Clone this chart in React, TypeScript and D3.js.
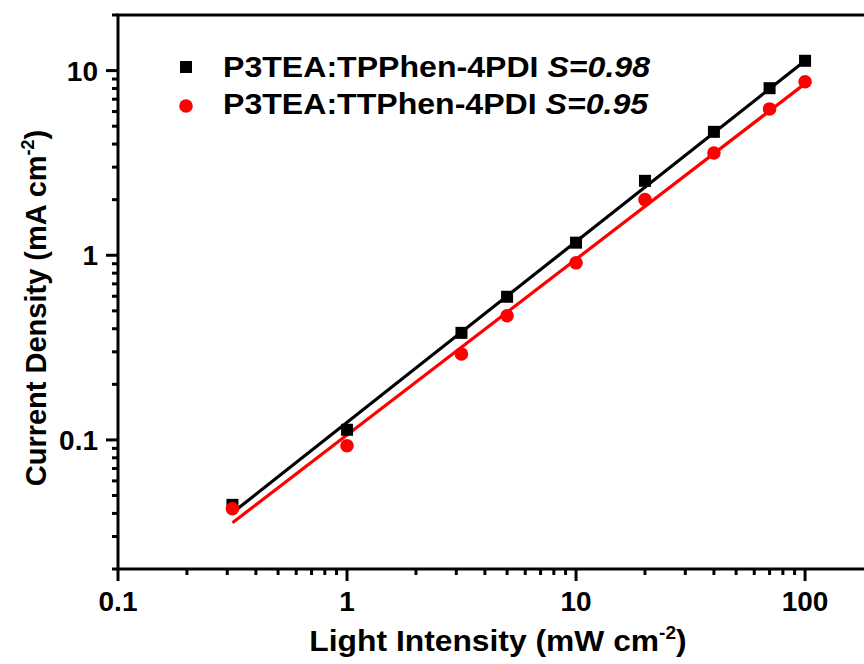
import React from "react";
import * as d3 from "d3";

const intensity = [0.316, 1, 3.16, 5, 10, 20, 40, 70, 100];
const tpphen = [0.0445, 0.1135, 0.38, 0.596, 1.17, 2.53, 4.66, 8.03, 11.3];
const ttphen = [0.0424, 0.093, 0.292, 0.47, 0.91, 2.0, 3.58, 6.2, 8.7];
const fitX = [0.316, 100];
const tpphenFit = [0.0403, 11.3];
const ttphenFit = [0.0356, 8.5];
const xTicks = [0.1, 1, 10, 100];
const xTickLabels = ["0.1", "1", "10", "100"];
const yTicks = [0.1, 1, 10];
const yTickLabels = ["0.1", "1", "10"];
const seriesNames = ["P3TEA:TPPhen-4PDI ", "P3TEA:TTPhen-4PDI "];
const slopeLabels = ["S=0.98", "S=0.95"];
const colors = ["#000000", "#ff0000"];

const W = 864;
const H = 664;
const left = 118;
const right = 874;
const top = 15;
const bottom = 569;

export default function App() {
  const x = d3.scaleLog().domain([0.1, 200]).range([left, right]);
  const y = d3.scaleLog().domain([0.02, 20]).range([bottom, top]);
  const font = "'Liberation Sans', Arial, sans-serif";

  const xMinor: number[] = [];
  [0.1, 1, 10, 100].forEach((d) => {
    for (let k = 2; k <= 9; k++) xMinor.push(d * k);
  });
  const yMinor: number[] = [];
  [0.01, 0.1, 1, 10].forEach((d) => {
    for (let k = 2; k <= 9; k++) yMinor.push(d * k);
  });
  const xm = xMinor.filter((v) => v > 0.1 && v < 200);
  const ym = yMinor.filter((v) => v >= 0.02 && v <= 20);

  const line = d3
    .line<[number, number]>()
    .x((d) => x(d[0]))
    .y((d) => y(d[1]));

  const fits = [tpphenFit, ttphenFit];
  const series = [tpphen, ttphen];
  const sq = 12;
  const r = 6.8;

  return (
    <svg
      width={W}
      height={H}
      style={{ position: "absolute", left: 0, top: 0, background: "#fff" }}
      fontFamily={font}
    >
      <rect x={0} y={0} width={W} height={H} fill="#fff" />
      {fits.map((f, i) => (
        <path
          key={"fit" + i}
          d={line(fitX.map((v, j) => [v, f[j]]) as [number, number][]) || ""}
          stroke={colors[i]}
          strokeWidth={3.2}
          fill="none"
        />
      ))}
      {intensity.map((v, i) => (
        <rect
          key={"s" + i}
          x={x(v) - sq / 2}
          y={y(series[0][i]) - sq / 2}
          width={sq}
          height={sq}
          fill={colors[0]}
        />
      ))}
      {intensity.map((v, i) => (
        <circle key={"c" + i} cx={x(v)} cy={y(series[1][i])} r={r} fill={colors[1]} />
      ))}
      <rect
        x={left}
        y={top}
        width={right - left}
        height={bottom - top}
        fill="none"
        stroke="#000"
        strokeWidth={3}
      />
      {xTicks.map((v) => (
        <line key={"xt" + v} x1={x(v)} x2={x(v)} y1={bottom} y2={bottom + 12} stroke="#000" strokeWidth={3} />
      ))}
      {xm.map((v) => (
        <line key={"xm" + v} x1={x(v)} x2={x(v)} y1={bottom} y2={bottom + 6} stroke="#000" strokeWidth={3} />
      ))}
      {xTicks.map((v, i) => (
        <text key={"xl" + v} x={x(v)} y={611} textAnchor="middle" fontSize={28} fontWeight="bold">
          {xTickLabels[i]}
        </text>
      ))}
      {yTicks.map((v) => (
        <line key={"yt" + v} x1={left - 12} x2={left} y1={y(v)} y2={y(v)} stroke="#000" strokeWidth={3} />
      ))}
      {ym.map((v) => (
        <line key={"ym" + v} x1={left - 6} x2={left} y1={y(v)} y2={y(v)} stroke="#000" strokeWidth={3} />
      ))}
      {yTicks.map((v, i) => (
        <text key={"yl" + v} x={98} y={y(v) + 10} textAnchor="end" fontSize={28} fontWeight="bold">
          {yTickLabels[i]}
        </text>
      ))}
      <g transform="translate(498,651) scale(1.06,1)">
        <text x={0} y={0} textAnchor="middle" fontSize={30} fontWeight="bold">
          Light Intensity (mW cm
          <tspan dy={-12} fontSize={18}>-2</tspan>
          <tspan dy={12}>)</tspan>
        </text>
      </g>
      <text
        transform={`translate(46,308) rotate(-90)`}
        textAnchor="middle"
        fontSize={29}
        fontWeight="bold"
      >
        Current Density (mA cm
        <tspan dy={-12} fontSize={18}>-2</tspan>
        <tspan dy={12}>)</tspan>
      </text>
      {seriesNames.map((n, i) => (
        <g key={"lg" + i}>
          {i === 0 ? (
            <rect x={186 - sq / 2} y={67 - sq / 2} width={sq} height={sq} fill={colors[0]} />
          ) : (
            <circle cx={186} cy={106} r={r} fill={colors[1]} />
          )}
          <g transform={`translate(223,${77 + i * 37}) scale(1.07,1)`}>
            <text x={0} y={0} fontSize={30} fontWeight="bold">
              {n}
              <tspan fontStyle="italic">{slopeLabels[i]}</tspan>
            </text>
          </g>
        </g>
      ))}
    </svg>
  );
}
